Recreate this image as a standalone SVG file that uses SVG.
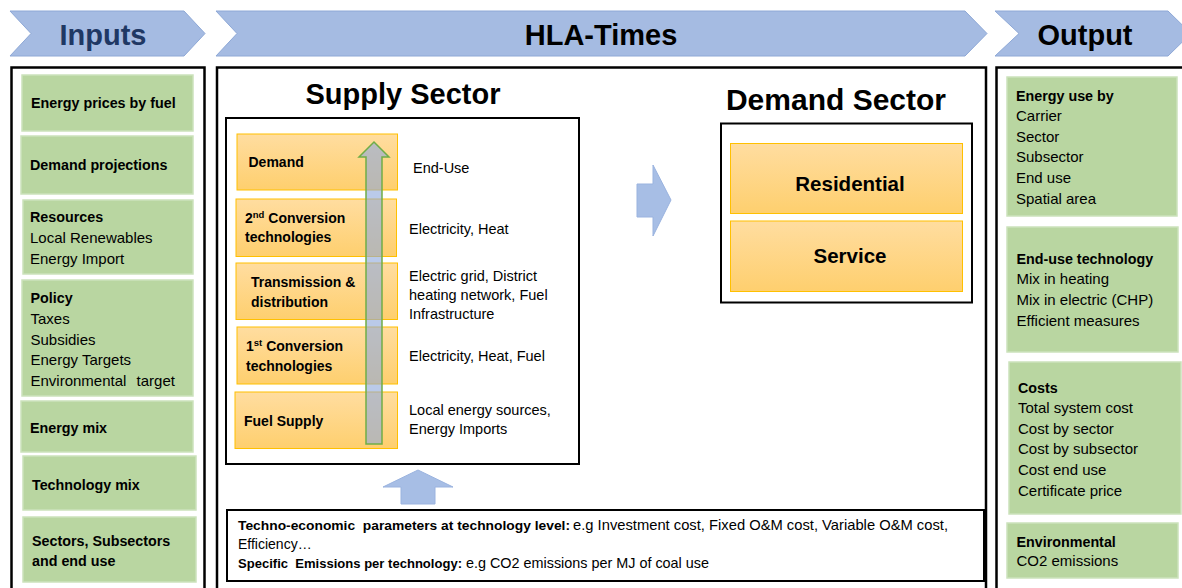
<svg xmlns="http://www.w3.org/2000/svg" width="1182" height="588" viewBox="0 0 1182 588">
<defs>
<linearGradient id="og" x1="0" y1="0" x2="0" y2="1">
<stop offset="0" stop-color="#FFDDA0"/>
<stop offset="1" stop-color="#FECF6E"/>
</linearGradient>
<style>
text{font-family:"Liberation Sans",Arial,sans-serif;fill:#000}
.ban{fill:#A5BBE2;stroke:#8EA8D6;stroke-width:1}
.bt{font-size:29px;font-weight:bold;text-anchor:middle}
.panel{fill:#fff;stroke:#000;stroke-width:2.5}
.grn{fill:#B9D6A1;stroke:#CCE2BC;stroke-width:1.5}
.org{fill:url(#og);stroke:#FFC000;stroke-width:1}
.box{fill:#fff;stroke:#000;stroke-width:2}
.b{font-size:14.3px;font-weight:bold}
.r{font-size:15px}
.ob{font-size:14px;font-weight:bold}
.sl{font-size:14.5px}
.ttl{font-size:29px;font-weight:bold;text-anchor:middle}
.ds{font-size:20.5px;font-weight:bold;text-anchor:middle}
.blk{fill:#A7BEE5;stroke:#9AB3DF;stroke-width:1}
.bb{font-size:13.5px;font-weight:bold}
.br{font-size:14.5px}
</style>
</defs>
<rect width="1182" height="588" fill="#fff"/>

<g id="banner-inputs">
<polygon class="ban" points="10,11 184,11 205,33.5 184,56 10,56 31,33.5"/>
<text class="bt" x="103" y="45" style="fill:#1F3864">Inputs</text>
</g>
<g id="banner-hla">
<polygon class="ban" points="216,11 965,11 987,33.5 965,56 216,56 237,33.5"/>
<text class="bt" x="601" y="45">HLA-Times</text>
</g>
<g id="banner-output">
<polygon class="ban" points="995,11 1168,11 1191,33.5 1168,56 995,56 1019,33.5"/>
<text class="bt" x="1085" y="45">Output</text>
</g>

<g id="panel-inputs"><rect class="panel" x="11.5" y="67.5" width="193" height="540"/></g>
<g id="panel-hla"><rect class="panel" x="217" y="67.5" width="769" height="540"/></g>
<g id="panel-output"><rect class="panel" x="996.5" y="67.5" width="200" height="540"/></g>

<g id="in-prices"><rect class="grn" x="22" y="75" width="171" height="56"/><text class="b" x="31" y="108">Energy prices by fuel</text></g>
<g id="in-demand"><rect class="grn" x="21" y="136" width="172" height="58"/><text class="b" x="30" y="170">Demand projections</text></g>
<g id="in-resources"><rect class="grn" x="23" y="200" width="170" height="74"/>
<text class="b" x="30" y="222">Resources</text><text class="r" x="30" y="243">Local Renewables</text><text class="r" x="30" y="263.5">Energy Import</text></g>
<g id="in-policy"><rect class="grn" x="22" y="280" width="171" height="116"/>
<text class="b" x="30.5" y="303">Policy</text><text class="r" x="30.5" y="324">Taxes</text><text class="r" x="30.5" y="344.5">Subsidies</text><text class="r" x="30.5" y="365">Energy Targets</text><text class="r" x="30.5" y="385.5" word-spacing="6">Environmental target</text></g>
<g id="in-energymix"><rect class="grn" x="21" y="401" width="172" height="51"/><text class="b" x="30" y="433">Energy mix</text></g>
<g id="in-techmix"><rect class="grn" x="23" y="456" width="173" height="54"/><text class="b" x="32" y="490">Technology mix</text></g>
<g id="in-sectors"><rect class="grn" x="23" y="517" width="173" height="65"/><text class="b" x="32" y="546">Sectors, Subsectors</text><text class="b" x="32" y="566">and end use</text></g>

<g id="out-energyuse"><rect class="grn" x="1007" y="77" width="170" height="139"/>
<text class="b" x="1016" y="101">Energy use by</text><text class="r" x="1016" y="121">Carrier</text><text class="r" x="1016" y="142">Sector</text><text class="r" x="1016" y="162">Subsector</text><text class="r" x="1016" y="183">End use</text><text class="r" x="1016" y="203.5">Spatial area</text></g>
<g id="out-enduse"><rect class="grn" x="1007" y="227" width="171" height="125"/>
<text class="b" x="1016.5" y="263.5">End-use technology</text><text class="r" x="1016.5" y="284">Mix in heating</text><text class="r" x="1016.5" y="305">Mix in electric (CHP)</text><text class="r" x="1016.5" y="325.5">Efficient measures</text></g>
<g id="out-costs"><rect class="grn" x="1009" y="362" width="172" height="152"/>
<text class="b" x="1018" y="392.5">Costs</text><text class="r" x="1018" y="413">Total system cost</text><text class="r" x="1018" y="433.5">Cost by sector</text><text class="r" x="1018" y="454">Cost by subsector</text><text class="r" x="1018" y="475">Cost end use</text><text class="r" x="1018" y="495.5">Certificate price</text></g>
<g id="out-env"><rect class="grn" x="1007" y="523" width="171" height="55"/>
<text class="b" x="1016.5" y="546.5">Environmental</text><text class="r" x="1016.5" y="566">CO2 emissions</text></g>

<g id="supply-sector">
<text class="ttl" x="403" y="104">Supply Sector</text>
<rect class="box" x="226" y="118" width="353" height="346"/>
</g>
<g id="s-demand"><rect class="org" x="237" y="134" width="160.5" height="56"/><text class="ob" x="248.5" y="167">Demand</text></g>
<g id="s-conv2"><rect class="org" x="236" y="199" width="160.5" height="57.5"/><text class="ob" x="245" y="223">2<tspan font-size="9.5" dy="-5">nd</tspan><tspan dy="5"> Conversion</tspan></text><text class="ob" x="245" y="242">technologies</text></g>
<g id="s-trans"><rect class="org" x="236" y="263" width="161.5" height="56.5"/><text class="ob" x="251" y="287">Transmission &amp;</text><text class="ob" x="251" y="306.5">distribution</text></g>
<g id="s-conv1"><rect class="org" x="237" y="327" width="160.5" height="57"/><text class="ob" x="246" y="351">1<tspan font-size="9.5" dy="-5">st</tspan><tspan dy="5"> Conversion</tspan></text><text class="ob" x="246" y="370.5">technologies</text></g>
<g id="s-fuel"><rect class="org" x="235" y="392" width="162.5" height="56.5"/><text class="ob" x="244" y="426">Fuel Supply</text></g>

<g id="supply-labels">
<text class="sl" x="413" y="173">End-Use</text>
<text class="sl" x="409" y="234">Electricity, Heat</text>
<text class="sl" x="409" y="281">Electric grid, District</text>
<text class="sl" x="409" y="299.5">heating network, Fuel</text>
<text class="sl" x="409" y="318.5">Infrastructure</text>
<text class="sl" x="409" y="361">Electricity, Heat, Fuel</text>
<text class="sl" x="409" y="415">Local energy sources,</text>
<text class="sl" x="409" y="433.5">Energy Imports</text>
</g>

<g id="demand-sector">
<text class="ttl" x="836" y="110" style="font-size:30px">Demand Sector</text>
<rect class="box" x="721" y="123.5" width="251" height="179"/>
</g>
<g id="d-residential"><rect class="org" x="730.5" y="143.5" width="232" height="70"/><text class="ds" x="850" y="191">Residential</text></g>
<g id="d-service"><rect class="org" x="730.5" y="221" width="232" height="70.5"/><text class="ds" x="850" y="262.5">Service</text></g>

<g id="params">
<rect x="227" y="510" width="757" height="71" fill="#fff" stroke="#000" stroke-width="2"/>
<text class="bb" x="238" y="530" textLength="332" lengthAdjust="spacingAndGlyphs" xml:space="preserve">Techno-economic  parameters at technology level:</text>
<text class="br" x="573" y="530" textLength="375" lengthAdjust="spacingAndGlyphs">e.g Investment cost, Fixed O&amp;M cost, Variable O&amp;M cost,</text>
<text class="br" x="238" y="549" style="font-size:14px">Efficiency…</text>
<text class="bb" x="238" y="568" textLength="224" lengthAdjust="spacingAndGlyphs" xml:space="preserve">Specific  Emissions per technology:</text>
<text class="br" x="466" y="568" textLength="243" lengthAdjust="spacingAndGlyphs">e.g CO2 emissions per MJ of coal use</text>
</g>

<g id="connectors">
<polygon points="366,444 382,444 382,157 389,157 374,142 359,157 366,157" fill="#8FAADC" fill-opacity="0.62" stroke="#70AD47" stroke-width="1.5"/>
<polygon class="blk" points="637,184 653,184 653,165 671,200 653,236 653,217 637,217"/>
<polygon class="blk" points="401,504 435,504 435,487 453,487 418,470 383,487 401,487"/>
</g>
</svg>
